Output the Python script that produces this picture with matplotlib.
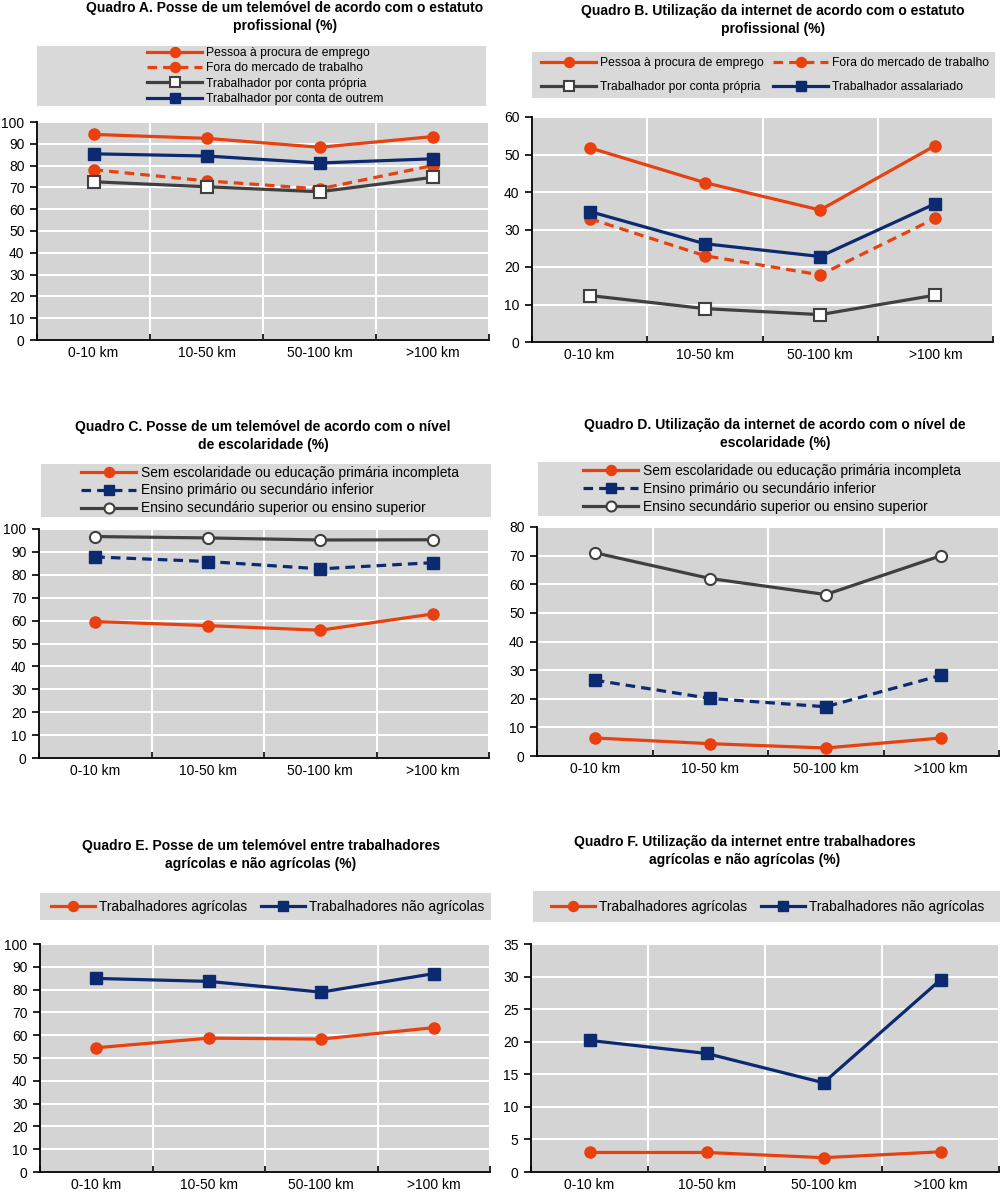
import matplotlib
matplotlib.use("Agg")
import matplotlib.pyplot as plt
from matplotlib.patches import Rectangle
from matplotlib.ticker import FixedLocator

plt.rcParams['font.family'] = ['Liberation Sans', 'DejaVu Sans']

categories = ["0-10 km", "10-50 km", "50-100 km", ">100 km"]

# Panel A
a_procura = [94.3, 92.5, 88.4, 93.3]
a_fora = [78.1, 73.0, 69.3, 80.0]
a_propria = [72.6, 70.3, 68.0, 74.6]
a_outrem = [85.4, 84.4, 81.2, 83.1]
# Panel B
b_procura = [51.8, 42.5, 35.2, 52.4]
b_fora = [32.9, 23.0, 17.9, 33.0]
b_propria = [12.4, 8.9, 7.3, 12.5]
b_assalariado = [34.8, 26.2, 22.8, 36.9]
# Panel C
c_sem = [59.6, 57.8, 55.8, 62.9]
c_primario = [87.8, 85.8, 82.6, 85.3]
c_secundario = [96.7, 96.1, 95.2, 95.3]
# Panel D
d_sem = [6.3, 4.3, 2.8, 6.3]
d_primario = [26.5, 20.1, 17.2, 28.2]
d_secundario = [71.0, 62.0, 56.4, 70.0]
# Panel E
e_agri = [54.5, 58.7, 58.3, 63.3]
e_nao_agri = [84.9, 83.6, 78.9, 87.0]
# Panel F
f_agri = [3.0, 3.0, 2.2, 3.1]
f_nao_agri = [20.2, 18.2, 13.7, 29.5]

RED = '#e8400f'
NAVY = '#0b2a6f'
GREY = '#404040'
BG = '#d4d4d4'
LEGBG = '#d9d9d9'

W, H = 1000, 1192
fig = plt.figure(figsize=(W / 100, H / 100), dpi=100)

def px_axes(l, t, r, b):
    return fig.add_axes([l / W, 1 - b / H, (r - l) / W, (b - t) / H])

DASH = (0, (3.0, 1.9))

def style(name):
    d = dict(lw=2.3, ms=8)
    if name == 'red_circle':
        d.update(color=RED, marker='o', mfc=RED, mec=RED)
    elif name == 'red_circle_dash':
        d.update(color=RED, marker='o', mfc=RED, mec=RED, ls=DASH)
    elif name == 'grey_sq_open':
        d.update(color=GREY, marker='s', mfc='white', mec=GREY, mew=1.5)
    elif name == 'navy_sq':
        d.update(color=NAVY, marker='s', mfc=NAVY, mec=NAVY)
    elif name == 'navy_sq_dash':
        d.update(color=NAVY, marker='s', mfc=NAVY, mec=NAVY, ls=DASH)
    elif name == 'grey_circle_open':
        d.update(color=GREY, marker='o', mfc='white', mec=GREY, mew=1.5)
    return d

def panel(rect, ymax, ystep, series, legbox, ncol, legfont, handlelength,
          labelspacing, columnspacing, title, title_xy, leg_center, order=None):
    ax = px_axes(*rect)
    ax.set_facecolor(BG)
    x = list(range(len(categories)))
    for vals, label, st in series:
        ax.plot(x, vals, label=label, **style(st), zorder=3)
    ax.set_xlim(-0.5, len(categories) - 0.5)
    ax.set_ylim(0, ymax)
    ax.set_yticks(list(range(0, ymax + 1, ystep)))
    ax.set_xticks(x)
    ax.set_xticklabels(categories, fontsize=10)
    ax.xaxis.set_minor_locator(FixedLocator([i - 0.5 for i in range(len(categories) + 1)]))
    ax.tick_params(axis='x', which='major', length=0, pad=4)
    ax.tick_params(axis='x', which='minor', length=4, direction='in', width=1.2)
    ax.tick_params(axis='y', length=5, width=1.2, labelsize=10, pad=4)
    ax.grid(True, axis='y', color='white', lw=1.5, zorder=1)
    ax.grid(True, axis='x', which='minor', color='white', lw=1.5, zorder=1)
    ax.set_axisbelow(True)
    for s in ['top', 'right']:
        ax.spines[s].set_visible(False)
    for s in ['left', 'bottom']:
        ax.spines[s].set_linewidth(1.3)
        ax.spines[s].set_zorder(4)
    # legend box
    l, t, r, b = legbox
    fig.patches.append(Rectangle((l / W, 1 - b / H), (r - l) / W, (b - t) / H,
                                 transform=fig.transFigure, facecolor=LEGBG,
                                 edgecolor='none', zorder=0))
    handles, labels = ax.get_legend_handles_labels()
    if order is not None:
        handles = [handles[i] for i in order]
        labels = [labels[i] for i in order]
    fig.legend(handles, labels, loc='center',
               bbox_to_anchor=(leg_center / W, 1 - (t + b) / 2 / H),
               ncol=ncol, frameon=False, fontsize=legfont, handlelength=handlelength,
               handletextpad=0.3, columnspacing=columnspacing,
               labelspacing=labelspacing, borderpad=0, markerscale=0.9)
    tx, ty = title_xy
    fig.text(tx / W, 1 - ty / H, title, ha='center', va='center',
             fontsize=10, fontweight='bold', linespacing=1.3)
    return ax

panel((37, 122, 489, 340), 100, 10,
      [(a_procura, "Pessoa à procura de emprego", 'red_circle'),
       (a_fora, "Fora do mercado de trabalho", 'red_circle_dash'),
       (a_propria, "Trabalhador por conta própria", 'grey_sq_open'),
       (a_outrem, "Trabalhador por conta de outrem", 'navy_sq')],
      (37, 46, 486, 106), 1, 8.7, 4.6, 0.27, 1.0,
      "Quadro A. Posse de um telemóvel de acordo com o estatuto\nprofissional (%)",
      (285, 17), 265)

panel((532, 117, 993, 342), 60, 10,
      [(b_procura, "Pessoa à procura de emprego", 'red_circle'),
       (b_fora, "Fora do mercado de trabalho", 'red_circle_dash'),
       (b_propria, "Trabalhador por conta própria", 'grey_sq_open'),
       (b_assalariado, "Trabalhador assalariado", 'navy_sq')],
      (532, 52, 995, 98), 2, 8.7, 4.6, 0.95, 0.75,
      "Quadro B. Utilização da internet de acordo com o estatuto\nprofissional (%)",
      (773, 20), 765, order=[0, 2, 1, 3])

panel((39, 529, 489, 758), 100, 10,
      [(c_sem, "Sem escolaridade ou educação primária incompleta", 'red_circle'),
       (c_primario, "Ensino primário ou secundário inferior", 'navy_sq_dash'),
       (c_secundario, "Ensino secundário superior ou ensino superior", 'grey_circle_open')],
      (41, 464, 491, 517), 1, 9.9, 4.0, 0.28, 1.0,
      "Quadro C. Posse de um telemóvel de acordo com o nível\nde escolaridade (%)",
      (263, 436), 270)

panel((537, 527, 999, 756), 80, 10,
      [(d_sem, "Sem escolaridade ou educação primária incompleta", 'red_circle'),
       (d_primario, "Ensino primário ou secundário inferior", 'navy_sq_dash'),
       (d_secundario, "Ensino secundário superior ou ensino superior", 'grey_circle_open')],
      (538, 462, 1000, 516), 1, 9.9, 4.0, 0.28, 1.0,
      "Quadro D. Utilização da internet de acordo com o nível de\nescolaridade (%)",
      (775, 434), 772)

panel((40, 944, 490, 1172), 100, 10,
      [(e_agri, "Trabalhadores agrícolas", 'red_circle'),
       (e_nao_agri, "Trabalhadores não agrícolas", 'navy_sq')],
      (40, 893, 491, 920), 2, 9.9, 3.2, 0.5, 1.0,
      "Quadro E. Posse de um telemóvel entre trabalhadores\nagrícolas e não agrícolas (%)",
      (261, 855), 268)

panel((531, 944, 999, 1172), 35, 5,
      [(f_agri, "Trabalhadores agrícolas", 'red_circle'),
       (f_nao_agri, "Trabalhadores não agrícolas", 'navy_sq')],
      (533, 891, 1000, 922), 2, 9.9, 3.2, 0.5, 1.0,
      "Quadro F. Utilização da internet entre trabalhadores\nagrícolas e não agrícolas (%)",
      (745, 851), 768)

fig.savefig("out.png", dpi=100)
